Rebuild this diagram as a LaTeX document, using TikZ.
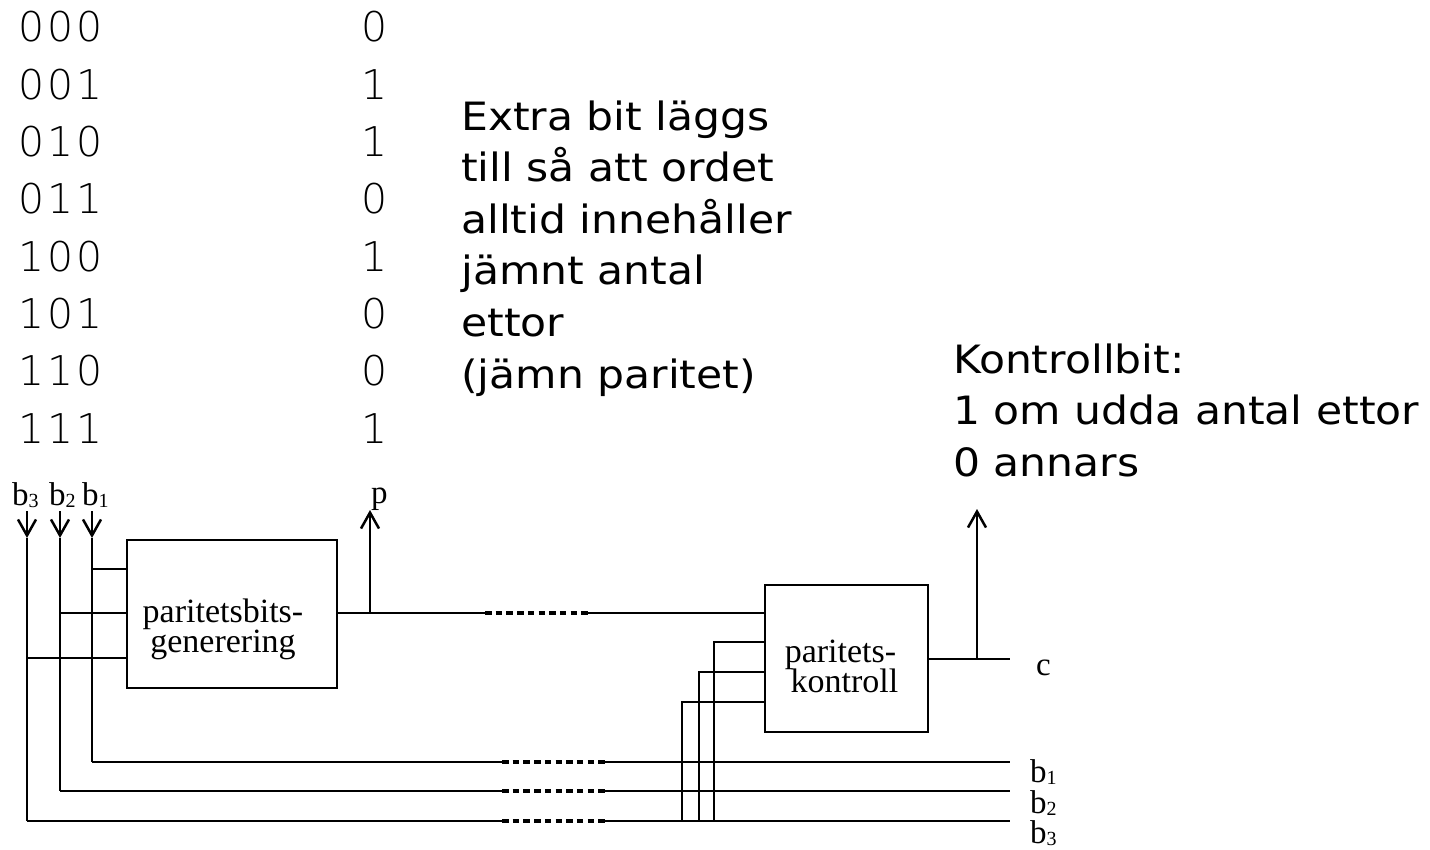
\documentclass[tikz,border=0pt]{standalone}
\usepackage{fontspec}
\setmainfont{Liberation Serif}
\newfontfamily\monofont{DejaVu Sans}[UprightFont=* ExtraLight, LetterSpace=7]
\newfontfamily\sansfnt{DejaVu Sans}[FakeStretch=1.09]
\usetikzlibrary{arrows.meta}
\begin{document}
\begin{tikzpicture}[x=1pt,y=-1pt,
  wire/.style={line width=2.5pt, line cap=butt, line join=miter},
  arr/.style={wire, -{Straight Barb[length=16pt,width=18pt,line width=2.5pt]}},
  dotline/.style={line width=4.5pt, dash pattern=on 6.5pt off 4.2pt},
  box/.style={draw, line width=2.5pt, inner sep=0pt},
  tbl/.style={anchor=base west, inner sep=0pt, font=\monofont\fontsize{41}{41}\selectfont},
  sans/.style={anchor=base west, inner sep=0pt, font=\sansfnt\fontsize{39}{39}\selectfont},
  serif/.style={anchor=base west, inner sep=0pt, font=\fontsize{33}{33}\selectfont},
  boxtxt/.style={anchor=base, inner sep=0pt, font=\fontsize{34}{34}\selectfont}
]
\newcommand\sbx[1]{\raisebox{-2pt}{\fontsize{20}{20}\selectfont #1}}
\fill[white] (0,0) rectangle (1430,849);
\useasboundingbox (0,0) rectangle (1430,849);

% truth table
\foreach \b/\p [count=\i from 0] in {000/0,001/1,010/1,011/0,100/1,101/0,110/0,111/1}{
  \node[tbl] (w\i) at (18,{41.7+57.37*\i}) {\b};
  \node[tbl] (q\i) at (361,{41.7+57.37*\i}) {\p};
}

% explanation text
\foreach \t [count=\i from 0] in {Extra bit läggs,till så att ordet,alltid innehåller,jämnt antal,ettor,(jämn paritet)}{
  \node[sans] (e\i) at (461,{130+51.6*\i}) {\t};
}
\foreach \t [count=\i from 0] in {Kontrollbit:,1 om udda antal ettor,0 annars}{
  \node[sans] (k\i) at (953,{373+51.5*\i}) {\t};
}

% boxes
\node[box, minimum width=210pt, minimum height=148pt] (gen) at (232,614) {};
\node[boxtxt] (gen1) at (223,622.5) {paritetsbits-};
\node[boxtxt] (gen2) at (223,652) {generering};
\node[box, minimum width=163pt, minimum height=147pt] (chk) at (846.5,658.5) {};
\node[boxtxt] (chk1) at (840.5,662.5) {paritets-};
\node[boxtxt] (chk2) at (844.5,692) {kontroll};

% input labels
\node[serif] (lb3) at (12,505) {b\sbx{3}};
\node[serif] (lb2) at (49,505) {b\sbx{2}};
\node[serif] (lb1) at (82,505) {b\sbx{1}};
\node[serif] (lp) at (371,503) {p};
\node[serif] (lc) at (1036,675) {c};
\node[serif] (ob1) at (1030,782) {b\sbx{1}};
\node[serif] (ob2) at (1030,813) {b\sbx{2}};
\node[serif] (ob3) at (1030,843) {b\sbx{3}};

% coordinates
\coordinate (b3s) at (27,511);  \coordinate (b3t) at (27,538);  \coordinate (b3c) at (27,821);
\coordinate (b2s) at (60,511);  \coordinate (b2t) at (60,538);  \coordinate (b2c) at (60,791);
\coordinate (b1s) at (92,511);  \coordinate (b1t) at (92,538);  \coordinate (b1c) at (92,762);

% input arrows
\draw[arr] (b3s) -- (b3t);
\draw[arr] (b2s) -- (b2t);
\draw[arr] (b1s) -- (b1t);

% input wires to generator
\draw[wire] (b1t) -- (b1c);
\draw[wire] (b2t) -- (b2c);
\draw[wire] (b3t) -- (b3c);
\coordinate (g1) at (gen.west |- 0,569);
\coordinate (g2) at (gen.west |- 0,613);
\coordinate (g3) at (gen.west |- 0,658);
\draw[wire] (b1t |- g1) -- (g1);
\draw[wire] (b2t |- g2) -- (g2);
\draw[wire] (b3t |- g3) -- (g3);

% generator output
\coordinate (go) at (gen.east |- 0,613);
\coordinate (pj) at (370,613);
\coordinate (pt) at (370,510);
\coordinate (d0a) at (485,613);
\coordinate (d0b) at (588,613);
\coordinate (ci) at (chk.west |- 0,613);
\draw[wire] (go) -- (d0a);
\draw[dotline] (d0a) -- (d0b);
\draw[wire] (d0b) -- (ci);
\draw[arr] (pj) -- (pt);

% bottom bit lines
\coordinate (d1a) at (502,762); \coordinate (d1b) at (605,762); \coordinate (e1) at (1010,762);
\coordinate (d2a) at (502,791); \coordinate (d2b) at (605,791); \coordinate (e2) at (1010,791);
\coordinate (d3a) at (502,821); \coordinate (d3b) at (605,821); \coordinate (e3) at (1010,821);
\draw[wire] (b1c) -- (d1a); \draw[dotline] (d1a) -- (d1b); \draw[wire] (d1b) -- (e1);
\draw[wire] (b2c) -- (d2a); \draw[dotline] (d2a) -- (d2b); \draw[wire] (d2b) -- (e2);
\draw[wire] (b3c) -- (d3a); \draw[dotline] (d3a) -- (d3b); \draw[wire] (d3b) -- (e3);

% taps into checker
\coordinate (t1) at (714,821); \coordinate (i1) at (chk.west |- 0,642);
\coordinate (t2) at (699,821); \coordinate (i2) at (chk.west |- 0,672);
\coordinate (t3) at (682,821); \coordinate (i3) at (chk.west |- 0,702);
\draw[wire] (t1) |- (i1);
\draw[wire] (t2) |- (i2);
\draw[wire] (t3) |- (i3);

% checker output
\coordinate (co) at (chk.east |- 0,659);
\coordinate (ce) at (1010,659);
\coordinate (cj) at (977,659);
\coordinate (ct) at (977,509);
\draw[wire] (co) -- (ce);
\draw[arr] (cj) -- (ct);
\end{tikzpicture}
\end{document}
